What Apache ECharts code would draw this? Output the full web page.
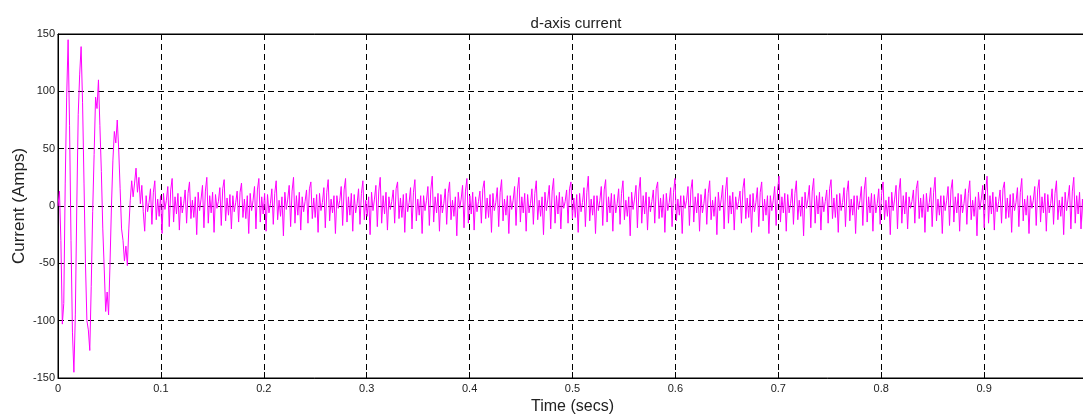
<!DOCTYPE html>
<html>
<head>
<meta charset="utf-8">
<script src="https://cdn.jsdelivr.net/npm/echarts@6/dist/echarts.min.js"></script>
<style>
html,body{margin:0;padding:0;background:#fff;}
#c{width:1083px;height:417px;}
</style>
</head>
<body>
<div id="c"></div>
<script>
// sample step (seconds): 12 samples per supply cycle of ~0.01685 s
const sampleStep = 0.0014042;

// start-up transient, first 60 samples
const transient = [0, 13, -30, -103, -85, 20, 95, 145, 70, -30, -110, -145, -95, 0, 80, 115, 139, 90, 20, -50,
  -100, -108, -126, -70, -5, 45, 95, 85, 110, 70, 30, -20, -55, -92, -75, -95, -50, 0, 40, 65,
  55, 75, 50, 15, -20, -30, -48, -35, -52, -20, 5, 22, 8, 20, 33, 12, 25, 2, 18, -5];

// steady-state ripple, one row per supply cycle
const steadyCycles = [
  [-22, 9, -5, 3, 15, -16, 12, 22, -12, 6, -9, 9],
  [-24, 11, -3, 5, 17, -18, 14, 24, -14, 8, -7, 11],
  [-21, 8, -6, 2, 14, -15, 11, 21, -11, 5, -10, 8],
  [-25, 12, -4, 6, 18, -19, 13, 25, -15, 9, -6, 12],
  [-23, 10, -2, 4, 16, -17, 15, 23, -13, 7, -8, 10],
  [-20, 9, -5, 3, 13, -14, 12, 20, -10, 6, -11, 9],
  [-24, 11, -4, 5, 17, -20, 14, 24, -14, 8, -7, 11],
  [-22, 10, -6, 2, 15, -16, 11, 22, -12, 5, -9, 8],
  [-26, 12, -3, 6, 18, -18, 13, 25, -15, 9, -8, 12],
  [-21, 8, -5, 4, 14, -15, 15, 21, -11, 7, -10, 10],
  [-23, 11, -4, 3, 16, -19, 12, 23, -13, 6, -6, 9],
  [-24, 9, -2, 5, 17, -17, 14, 24, -14, 8, -8, 11],
  [-22, 10, -6, 2, 15, -16, 11, 22, -12, 5, -9, 8],
  [-25, 12, -4, 6, 18, -18, 13, 25, -15, 9, -7, 12],
  [-21, 8, -3, 4, 14, -15, 15, 21, -11, 7, -10, 10],
  [-23, 11, -5, 3, 16, -20, 12, 23, -13, 6, -8, 9],
  [-24, 9, -4, 5, 17, -17, 14, 26, -14, 8, -6, 11],
  [-22, 10, -6, 2, 15, -16, 11, 21, -12, 5, -9, 8],
  [-26, 12, -2, 6, 18, -19, 13, 24, -15, 9, -7, 12],
  [-21, 8, -5, 4, 13, -15, 15, 22, -11, 7, -10, 10],
  [-23, 11, -4, 3, 16, -18, 12, 23, -13, 6, -8, 9],
  [-24, 9, -3, 5, 17, -17, 14, 25, -14, 8, -6, 11],
  [-22, 10, -6, 2, 15, -16, 11, 22, -12, 5, -9, 8],
  [-25, 12, -4, 6, 18, -20, 13, 24, -15, 9, -7, 12],
  [-20, 8, -2, 4, 14, -15, 15, 21, -11, 7, -10, 10],
  [-23, 11, -5, 3, 16, -18, 12, 26, -13, 6, -8, 9],
  [-24, 9, -4, 5, 17, -17, 14, 23, -14, 8, -6, 11],
  [-22, 10, -6, 2, 15, -16, 11, 22, -12, 5, -9, 8],
  [-26, 12, -3, 6, 18, -19, 13, 25, -15, 9, -7, 12],
  [-21, 8, -5, 4, 14, -15, 15, 21, -11, 7, -10, 10],
  [-23, 11, -4, 3, 16, -18, 12, 24, -13, 6, -8, 9],
  [-24, 9, -2, 5, 17, -17, 14, 23, -14, 8, -6, 11],
  [-22, 10, -6, 2, 15, -16, 11, 22, -12, 5, -9, 8],
  [-25, 12, -4, 6, 18, -20, 13, 25, -15, 9, -7, 12],
  [-21, 8, -3, 4, 13, -15, 15, 24, -11, 7, -10, 10],
  [-23, 11, -5, 3, 16, -18, 12, 21, -13, 6, -8, 9],
  [-24, 9, -4, 5, 17, -17, 14, 26, -14, 8, -6, 11],
  [-22, 10, -6, 2, 15, -16, 11, 22, -12, 5, -9, 8],
  [-26, 12, -2, 6, 18, -19, 13, 24, -15, 9, -7, 12],
  [-21, 8, -5, 4, 14, -15, 15, 23, -11, 7, -10, 10],
  [-23, 11, -4, 3, 16, -18, 12, 22, -13, 6, -8, 9],
  [-24, 9, -3, 5, 17, -17, 14, 25, -14, 8, -6, 11],
  [-22, 10, -6, 2, 15, -16, 11, 21, -12, 5, -9, 8],
  [-25, 12, -4, 6, 18, -20, 13, 24, -15, 9, -7, 12],
  [-20, 8, -2, 4, 14, -15, 15, 22, -11, 7, -10, 10],
  [-23, 11, -5, 3, 16, -18, 12, 25, -13, 6, -8, 9],
  [-24, 9, -4, 5, 17, -17, 14, 23, -14, 8, -6, 11],
  [-22, 10, -6, 2, 15, -16, 11, 22, -12, 5, -9, 8],
  [-26, 12, -3, 6, 18, -19, 13, 26, -15, 9, -7, 12],
  [-21, 8, -5, 4, 14, -15, 15, 21, -11, 7, -10, 10],
  [-23, 11, -4, 3, 16, -18, 12, 24, -13, 6, -8, 9],
  [-24, 9, -2, 5, 17, -17, 14, 23, -14, 8, -6, 11],
  [-22, 10, -6, 2, 15, -16, 11, 22, -12, 5, -9, 8],
  [-25, 12, -4, 6, 18, -20, 13, 25, -15, 9, -7, 12],
  [-20, 6, -22, 4, 14, -15, 15, 22, -11, 7, -10, 10]
];

const xTickLabels = ['0', '0.1', '0.2', '0.3', '0.4', '0.5', '0.6', '0.7', '0.8', '0.9'];
const yTickLabels = ['-150', '-100', '-50', '0', '50', '100', '150'];

const titleText = 'd-axis current';
const xName = 'Time (secs)';
const yName = 'Current (Amps)';

const currentValues = transient.concat(...steadyCycles);
const seriesData = currentValues.map((v, i) => [i * sampleStep, v]);

const chart = echarts.init(document.getElementById('c'), null, { renderer: 'canvas' });
const font = 'Liberation Sans, Arial, Helvetica, sans-serif';
const gridLine = { show: true, lineStyle: { color: '#000', type: [6, 4], width: 1 } };

chart.setOption({
  backgroundColor: '#fff',
  animation: false,
  title: {
    text: titleText,
    left: 571, top: 11, textAlign: 'center',
    textStyle: { fontFamily: font, fontSize: 15, fontWeight: 'normal', color: '#222' }
  },
  grid: {
    left: 58, top: 34, width: 1029, height: 344,
    outerBoundsMode: 'none', containLabel: false,
    show: true, borderColor: '#000', borderWidth: 1, backgroundColor: 'transparent'
  },
  xAxis: [{
    type: 'value', min: 0, max: 1, interval: 0.1,
    name: xName, nameLocation: 'middle', nameGap: 21, nameMoveOverlap: false,
    nameTextStyle: { fontFamily: font, fontSize: 16, color: '#222' },
    axisLine: { show: true, onZero: false, lineStyle: { color: '#000', width: 1 } },
    axisTick: { show: true, inside: true, length: 6, lineStyle: { color: '#000' } },
    axisLabel: {
      show: true, margin: 5, showMaxLabel: false, fontFamily: font, fontSize: 11, color: '#222',
      formatter: v => { const k = Math.round(v * 10); return k < xTickLabels.length ? xTickLabels[k] : ''; }
    },
    splitLine: gridLine
  }, {
    type: 'value', min: 0, max: 1, interval: 0.1, position: 'top',
    axisLine: { show: true, onZero: false, lineStyle: { color: '#000', width: 1 } },
    axisTick: { show: true, inside: true, length: 6, lineStyle: { color: '#000' } },
    axisLabel: { show: false }, splitLine: { show: false }
  }],
  yAxis: {
    type: 'value', min: -150, max: 150, interval: 50,
    name: yName, nameLocation: 'middle', nameGap: 30, nameMoveOverlap: false,
    nameTextStyle: { fontFamily: font, fontSize: 17, color: '#222' },
    axisLine: { show: true, onZero: false, lineStyle: { color: '#000', width: 1 } },
    axisTick: { show: true, inside: true, length: 6, lineStyle: { color: '#000' } },
    axisLabel: {
      show: true, margin: 3, fontFamily: font, fontSize: 11, color: '#222',
      formatter: v => { const k = Math.round((v + 150) / 50); return yTickLabels[k]; }
    },
    splitLine: gridLine
  },
  series: [{
    type: 'line',
    data: seriesData,
    showSymbol: false,
    symbol: 'none',
    lineStyle: { color: '#ff00ff', width: 1 },
    itemStyle: { color: '#ff00ff' },
    z: 3
  }]
});
</script>
</body>
</html>
